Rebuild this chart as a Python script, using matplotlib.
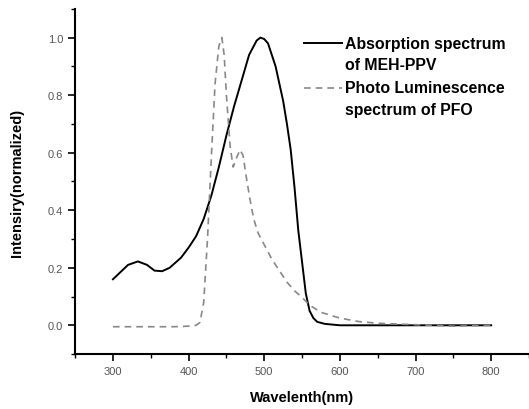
import matplotlib.pyplot as plt
import numpy as np
from matplotlib.ticker import MultipleLocator
from matplotlib.legend_handler import HandlerLine2D

# Absorption spectrum of MEH-PPV (solid line)
abs_wl = [300, 310, 320, 333, 345, 355, 365, 375, 390, 400, 410, 420, 430, 440,
          450, 460, 470, 480, 490, 495, 500, 505, 510, 515, 520, 525, 530, 535,
          540, 545, 550, 555, 560, 565, 570, 580, 600, 650, 700, 750, 800]
abs_val = [0.16, 0.185, 0.21, 0.222, 0.21, 0.19, 0.188, 0.20, 0.235, 0.27, 0.31,
           0.37, 0.45, 0.55, 0.66, 0.76, 0.85, 0.94, 0.99, 1.0, 0.995, 0.98,
           0.94, 0.90, 0.84, 0.78, 0.70, 0.61, 0.48, 0.33, 0.22, 0.11, 0.05,
           0.025, 0.012, 0.005, 0.0, 0.0, 0.0, 0.0, 0.0]

# Photo luminescence spectrum of PFO (dashed line)
pl_wl = [300, 350, 380, 400, 410, 415, 420, 425, 430, 435, 440, 444, 447, 450,
         455, 459, 463, 468, 472, 476, 481, 486, 492, 500, 510, 520, 530, 540,
         550, 560, 575, 600, 625, 650, 700, 750, 800]
pl_val = [-0.005, -0.005, -0.005, -0.003, 0.0, 0.01, 0.08, 0.30, 0.58, 0.84,
          0.97, 1.0, 0.94, 0.80, 0.62, 0.55, 0.58, 0.61, 0.59, 0.52, 0.44, 0.37,
          0.32, 0.28, 0.23, 0.19, 0.15, 0.12, 0.097, 0.07, 0.045, 0.025, 0.013,
          0.007, 0.002, -0.003, 0.0]

labels = ["Absorption spectrum\nof MEH-PPV", "Photo Luminescence\nspectrum of PFO"]


# legend handle sits beside the first text line, not the middle of the entry
class FirstLineHandler(HandlerLine2D):
    def create_artists(self, legend, orig_handle, xdescent, ydescent,
                       width, height, fontsize, trans):
        arts = super().create_artists(legend, orig_handle, xdescent, ydescent,
                                      width, height, fontsize, trans)
        for a in arts:
            a.set_ydata(np.asarray(a.get_ydata()) + 8.0)
        return arts


plt.rcParams['font.family'] = ['Liberation Sans', 'DejaVu Sans']

fig = plt.figure(figsize=(5.29, 4.10), dpi=100)
ax = fig.add_axes([0.142, 0.134, 0.858, 0.842])

l1, = ax.plot(abs_wl, abs_val, color='black', lw=1.4, label=labels[0])
l2, = ax.plot(pl_wl, pl_val, color='#888888', lw=1.2, ls=(0, (4, 3)), label=labels[1])

ax.set_xlim(250, 850)
ax.set_ylim(-0.1, 1.1)
ax.xaxis.set_minor_locator(MultipleLocator(50))
ax.yaxis.set_minor_locator(MultipleLocator(0.1))
ax.set_xticks(np.arange(300, 801, 100))
ax.set_yticks(np.arange(0, 1.01, 0.2))
ax.yaxis.set_major_formatter(plt.FormatStrFormatter('%.1f'))

for side in ['top', 'right']:
    ax.spines[side].set_visible(False)
for side in ['left', 'bottom']:
    ax.spines[side].set_linewidth(1.5)

ax.tick_params(which='major', direction='out', length=5, width=1.2,
               labelsize=8, labelcolor='#555555')
ax.tick_params(which='minor', direction='out', length=3, width=1.0)

ax.set_xlabel('Wavelenth(nm)', fontsize=10.5, fontweight='bold', labelpad=10)
ax.set_ylabel('Intensiry(normalized)', fontsize=10.5, fontweight='bold', labelpad=17)

leg = ax.legend(loc='upper left', bbox_to_anchor=(0.487, 0.945), frameon=False,
                prop={'weight': 'bold', 'size': 11.4}, handlelength=2.4,
                handletextpad=0.2, borderpad=0, labelspacing=0.5,
                handler_map={l1: FirstLineHandler(), l2: FirstLineHandler()})
for t in leg.get_texts():
    t.set_linespacing(1.55)

plt.savefig('out.png', dpi=100)
